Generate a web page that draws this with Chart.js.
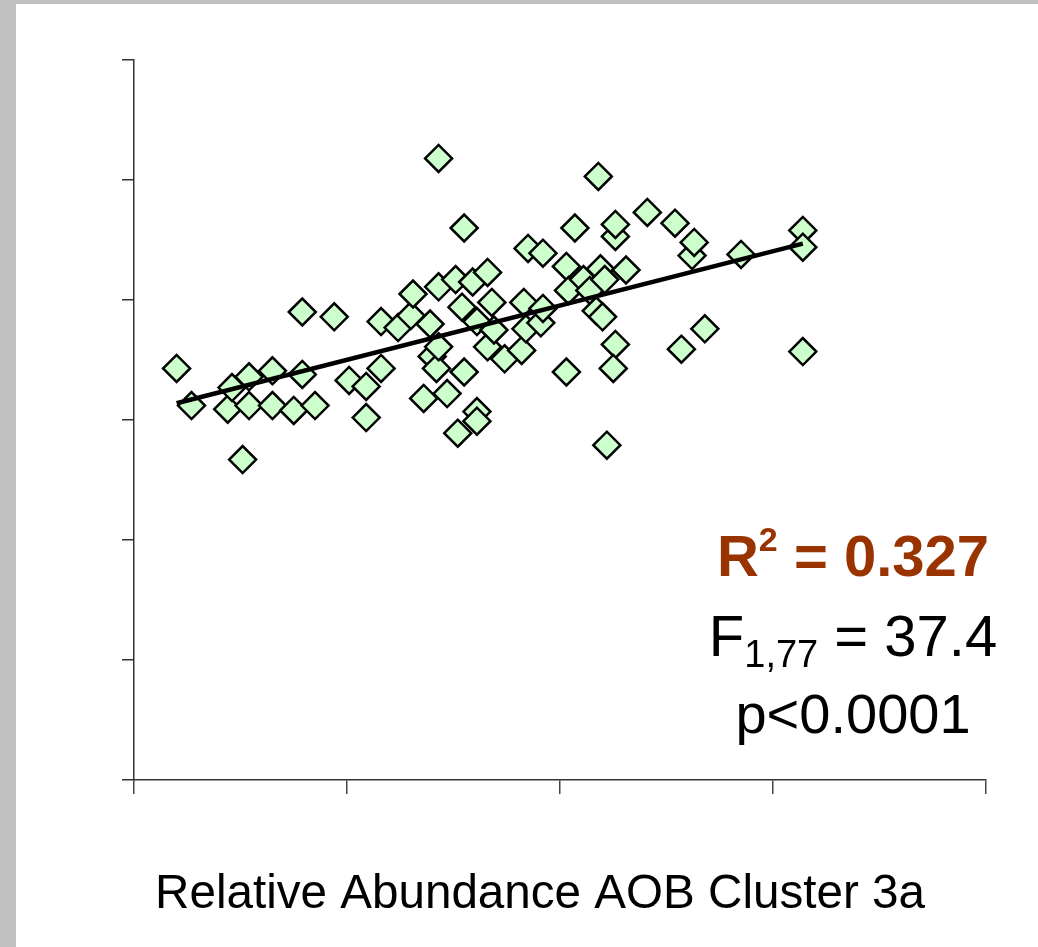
<!DOCTYPE html>
<html>
<head>
<meta charset="utf-8">
<script src="https://cdn.jsdelivr.net/npm/chart.js@4.4.1/dist/chart.umd.min.js"></script>
<style>
  html, body { margin: 0; padding: 0; background: #c0c0c0; width: 1038px; height: 947px; overflow: hidden; }
  #frame { position: absolute; left: 16px; top: 4px; width: 1022px; height: 943px; background: #ffffff; }
  canvas { display: block; }
</style>
</head>
<body>
<div id="frame"><canvas id="c" width="1022" height="943"></canvas></div>
<script>
// Relative abundance (x) vs response (y)
const abundanceX = [0.20,0.27,0.44,0.46,0.51,0.54,0.54,0.65,0.65,0.75,0.79,0.79,0.85,0.94,1.01,1.09,1.09,1.16,1.16,1.24,
  1.30,1.31,1.36,1.39,1.40,1.42,1.43,1.43,1.43,1.47,1.51,1.54,1.52,1.55,1.55,1.59,1.61,1.61,1.61,1.66,
  1.66,1.68,1.69,1.74,1.82,1.83,1.84,1.85,1.91,1.92,1.92,2.03,2.03,2.04,2.07,2.11,2.14,2.17,2.20,2.18,
  2.19,2.21,2.22,2.26,2.26,2.26,2.25,2.31,2.41,2.54,2.57,2.62,2.63,2.68,2.85,3.14,3.14,3.14];
const responseY = [3.43,3.12,3.09,3.27,2.67,3.36,3.12,3.12,3.41,3.08,3.90,3.38,3.12,3.86,3.33,3.02,3.28,3.43,3.82,3.77,
  3.87,4.05,3.18,3.80,3.53,3.43,5.18,4.11,3.61,3.22,4.17,3.94,2.89,3.40,4.60,4.15,3.07,2.99,3.82,3.61,
  4.23,3.98,3.75,3.51,3.58,3.98,3.76,4.43,3.81,4.39,3.93,3.40,4.28,4.08,4.60,4.17,4.08,3.91,3.86,5.03,
  4.26,4.17,2.79,4.53,4.63,3.63,3.43,4.25,4.73,4.64,3.59,4.37,4.48,3.76,4.38,4.58,4.44,3.57];
// Fitted regression line end points
const fitX = [0.20, 3.14];
const fitY = [3.14, 4.47];
// Axis tick positions (no labels shown)
const xTicks = [0, 1, 2, 3, 4];
const yTicks = [0, 1, 2, 3, 4, 5, 6];

const xTitle = 'Relative Abundance AOB Cluster 3a';

const scatterPts = abundanceX.map((x, i) => ({ x: x, y: responseY[i] }));
const fitPts = fitX.map((x, i) => ({ x: x, y: fitY[i] }));

const textPlugin = {
  id: 'statText',
  afterDraw(chart) {
    const ctx = chart.ctx;
    ctx.save();
    ctx.textBaseline = 'alphabetic';
    const fam = '"Liberation Sans", Arial, Helvetica, sans-serif';
    function drawRuns(runs, cx, baseline) {
      let total = 0;
      runs.forEach(r => { ctx.font = r.font; r.w = ctx.measureText(r.t).width; total += r.w; });
      let x = cx - total / 2;
      runs.forEach(r => {
        ctx.font = r.font; ctx.fillStyle = r.color; ctx.textAlign = 'left';
        ctx.fillText(r.t, x, baseline + (r.dy || 0));
        x += r.w;
      });
    }
    const cx = 853 - 16;
    drawRuns([
      { t: 'R', font: 'bold 58px ' + fam, color: '#993300' },
      { t: '2', font: 'bold 34px ' + fam, color: '#993300', dy: -25 },
      { t: ' = 0.327', font: 'bold 58px ' + fam, color: '#993300' }
    ], cx, 576 - 4);
    drawRuns([
      { t: 'F', font: '58px ' + fam, color: '#000000' },
      { t: '1,77', font: '38px ' + fam, color: '#000000', dy: 11 },
      { t: ' = 37.4', font: '58px ' + fam, color: '#000000' }
    ], cx, 656 - 4);
    drawRuns([
      { t: 'p<0.0001', font: '56px ' + fam, color: '#000000' }
    ], cx, 733 - 4);
    ctx.font = '47.6px ' + fam;
    ctx.fillStyle = '#000000';
    ctx.textAlign = 'center';
    ctx.fillText(xTitle, 540 - 16, 908 - 4);
    ctx.restore();
  }
};

new Chart(document.getElementById('c'), {
  type: 'scatter',
  data: {
    datasets: [
      {
        type: 'line',
        data: fitPts,
        borderColor: '#000000',
        borderWidth: 4.5,
        pointRadius: 0,
        fill: false,
        order: 0
      },
      {
        type: 'scatter',
        data: scatterPts,
        pointStyle: 'rectRot',
        pointRadius: 13.5,
        pointBackgroundColor: '#ccffcc',
        pointBorderColor: '#000000',
        pointBorderWidth: 2.5,
        order: 1
      }
    ]
  },
  options: {
    responsive: false,
    animation: false,
    devicePixelRatio: 1,
    layout: { padding: { left: 106, right: 52, top: 56, bottom: 153 } },
    plugins: { legend: { display: false }, tooltip: { enabled: false } },
    scales: {
      x: {
        type: 'linear',
        min: xTicks[0], max: xTicks[xTicks.length - 1],
        afterBuildTicks: s => { s.ticks = xTicks.map(v => ({ value: v })); },
        afterFit: s => { s.height = 14; },
        ticks: { display: false },
        grid: { drawOnChartArea: false, drawTicks: true, tickLength: 14, color: '#444444', lineWidth: 1.5 },
        border: { display: true, color: '#333333', width: 1.5 }
      },
      y: {
        type: 'linear',
        min: yTicks[0], max: yTicks[yTicks.length - 1],
        afterBuildTicks: s => { s.ticks = yTicks.map(v => ({ value: v })); },
        afterFit: s => { s.width = 12; },
        ticks: { display: false },
        grid: { drawOnChartArea: false, drawTicks: true, tickLength: 12, color: '#333333', lineWidth: 1.5 },
        border: { display: true, color: '#333333', width: 1.5 }
      }
    }
  },
  plugins: [textPlugin]
});
</script>
</body>
</html>
